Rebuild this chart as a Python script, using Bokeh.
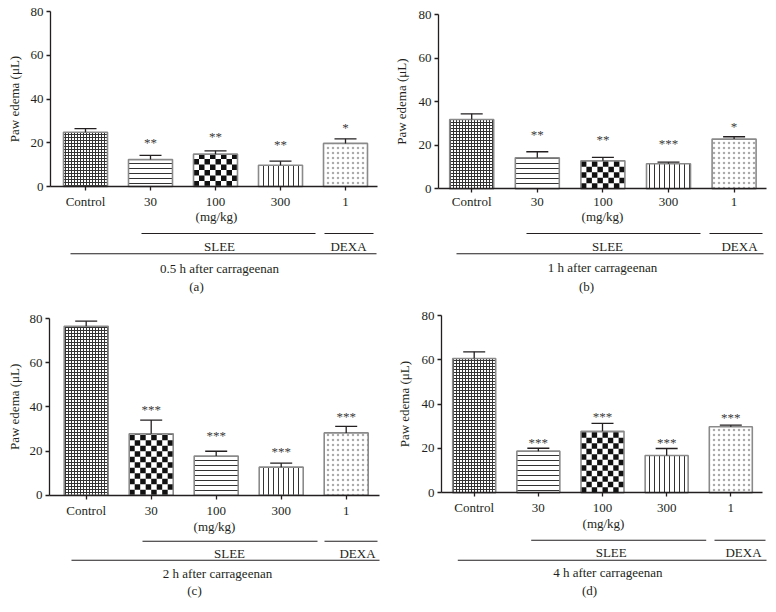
import math
import numpy as np
from bokeh.plotting import figure
from bokeh.models import Range1d, FixedTicker
from bokeh.layouts import column, row
from bokeh.embed import file_html
from bokeh.resources import INLINE
from bokeh.core.properties import value

# ---------------- data ----------------
groups = ["Control", "30", "100", "300", "1"]
y_ticks = [0, 20, 40, 60, 80]

a_mean = [24.8, 12.3, 14.8, 9.7, 19.7]
a_sem = [1.7, 1.9, 1.5, 1.9, 2.1]
a_stars = ["", "**", "**", "**", "*"]

b_mean = [31.8, 14.2, 12.9, 11.5, 22.8]
b_sem = [2.6, 2.8, 1.5, 0.7, 1.1]
b_stars = ["", "**", "**", "***", "*"]

c_mean = [76.5, 27.8, 17.7, 12.7, 28.2]
c_sem = [2.3, 6.2, 2.2, 1.8, 3.0]
c_stars = ["", "***", "***", "***", "***"]

d_mean = [60.6, 18.8, 27.8, 16.8, 29.8]
d_sem = [3.0, 1.3, 3.5, 3.2, 0.7]
d_stars = ["", "***", "***", "***", "***"]

captions = ["0.5 h after carrageenan", "1 h after carrageenan",
            "2 h after carrageenan", "4 h after carrageenan"]
letters = ["(a)", "(b)", "(c)", "(d)"]
dose_unit = "(mg/kg)"
group_names = ["SLEE", "DEXA"]
y_title = "Paw edema (\u03bcL)"

# ---------------- styles ----------------
FONT = "Liberation Serif"
INK = "#231f20"
FS = "13px"
BAR_LINE = "#8a8a8a"

HATCH = {
    "fine": dict(hatch_pattern="cross", hatch_scale=3, hatch_weight=1, hatch_color="#333333"),
    "hline": dict(hatch_pattern="horizontal_line", hatch_scale=5, hatch_weight=1, hatch_color="#333333"),
    "vline": dict(hatch_pattern="vertical_line", hatch_scale=5, hatch_weight=1, hatch_color="#333333"),
    "dots": dict(hatch_pattern="dot", hatch_scale=5, hatch_weight=1, hatch_color="#ababab"),
    "checker": dict(),
}

# layout geometry in page pixels (origin, size of each figure and positions of guides)
GEO = [
    dict(ox=1, oy=1, w=391, h=307, axis_x=51, axis_end=378, y80=12, y0=187, c0=86, s=65, bw=44,
         title_x=15, tick_sd=3, mg=(217, 216.7), gl_y=234, slee=(142, 316), dexa=(325, 374),
         gt_y=246.7, slee_x=220, dexa_x=349, long_y=254.3, long=(71, 377),
         cap=(220, 268.7), let=(197, 286.7), star_off=[0, 13, 14, 17, 11],
         pats=["fine", "hline", "checker", "vline", "dots"]),
    dict(ox=392, oy=1, w=376, h=307, axis_x=439, axis_end=767, y80=15, y0=189.3, c0=472.2, s=65.6, bw=44,
         title_x=402, tick_sd=1, mg=(603, 217.3), gl_y=234, slee=(527, 701), dexa=(710, 763),
         gt_y=246.7, slee_x=608, dexa_x=740, long_y=254.3, long=(457, 764),
         cap=(603, 267.7), let=(587, 286.7), star_off=[0, 17, 18, 19, 10],
         pats=["fine", "hline", "checker", "vline", "dots"]),
    dict(ox=1, oy=308, w=391, h=296, axis_x=50, axis_end=380, y80=319, y0=495.7, c0=86.7, s=65, bw=44,
         title_x=15, tick_sd=4, mg=(215, 526.7), gl_y=541.7, slee=(143, 318), dexa=(325, 378),
         gt_y=554, slee_x=230, dexa_x=358, long_y=560.7, long=(72, 380),
         cap=(218, 574), let=(195, 590.7), star_off=[0, 11, 16, 12, 10],
         pats=["fine", "checker", "hline", "vline", "dots"]),
    dict(ox=392, oy=308, w=376, h=296, axis_x=442, axis_end=763, y80=316, y0=493.3, c0=474.7, s=64.15, bw=43,
         title_x=405, tick_sd=3, mg=(604, 524), gl_y=540.7, slee=(531.7, 706.7), dexa=(715, 766),
         gt_y=553.3, slee_x=611.7, dexa_x=744, long_y=560.7, long=(458.3, 767),
         cap=(608.3, 573.3), let=(590, 590.7), star_off=[0, 6, 7, 6, 8],
         pats=["fine", "hline", "checker", "vline", "dots"]),
]

means = [a_mean, b_mean, c_mean, d_mean]
sems = [a_sem, b_sem, c_sem, d_sem]
stars = [a_stars, b_stars, c_stars, d_stars]


def txt(p, x, y, t, **kw):
    opts = dict(text_font=value(FONT), text_font_size=FS, text_color=INK,
                text_align="center", text_baseline="middle")
    opts.update(kw)
    p.text(x=[x], y=[y], text=[t], **opts)


def make_panel(k):
    g = GEO[k]
    ky = (g["y0"] - g["y80"]) / 80.0          # px per data unit (y)
    dx = lambda px: (px - g["c0"]) / g["s"]   # page px -> data x
    dy = lambda py: (g["y0"] - py) / ky       # page px -> data y

    p = figure(width=g["w"], height=g["h"],
               x_range=Range1d(dx(g["ox"]), dx(g["ox"] + g["w"])),
               y_range=Range1d(dy(g["oy"] + g["h"]), dy(g["oy"])),
               output_backend="svg", toolbar_location=None, min_border=0)
    p.outline_line_color = None
    p.grid.visible = False
    p.background_fill_color = "white"
    p.border_fill_color = "white"

    xa = p.xaxis[0]
    ya = p.yaxis[0]
    xa.fixed_location = 0
    ya.fixed_location = dx(g["axis_x"])
    xa.bounds = (dx(g["axis_x"]), dx(g["axis_end"]))
    ya.bounds = (0, 80)
    xa.ticker = FixedTicker(ticks=list(range(len(groups))))
    xa.major_label_overrides = {i: lab for i, lab in enumerate(groups)}
    ya.ticker = FixedTicker(ticks=y_ticks)
    for ax in (xa, ya):
        ax.axis_line_color = INK
        ax.axis_line_width = 1.3
        ax.major_tick_line_color = INK
        ax.major_tick_line_width = 1.3
        ax.major_tick_out = 4
        ax.major_tick_in = 0
        ax.minor_tick_line_color = None
        ax.major_label_text_font = FONT
        ax.major_label_text_font_size = FS
        ax.major_label_text_color = INK
    xa.major_label_standoff = g["tick_sd"]
    ya.major_label_standoff = 3

    m = means[k]
    e = sems[k]
    bw = g["bw"] / g["s"]
    cw = 11 / g["s"]
    for i in range(len(groups)):
        pat = g["pats"][i]
        p.vbar(x=[i], top=[m[i]], bottom=0, width=bw, fill_color="white",
               line_color=None, **HATCH[pat])
        if pat == "checker":
            sq = 5.5
            ncol = int(round(g["bw"] / sq))
            sw = bw / ncol
            sh = sq / ky
            nrow = int(math.ceil(m[i] / sh))
            L, R, B, T = [], [], [], []
            for r in range(nrow):
                for c in range(ncol):
                    if (r + c) % 2 == 0:
                        L.append(i - bw / 2 + c * sw)
                        R.append(i - bw / 2 + (c + 1) * sw)
                        B.append(r * sh)
                        T.append(min((r + 1) * sh, m[i]))
            p.quad(left=L, right=R, bottom=B, top=T, fill_color="#111111", line_color=None)
        p.vbar(x=[i], top=[m[i]], bottom=0, width=bw, fill_color=None,
               line_color=BAR_LINE, line_width=1.6)
        top = m[i] + e[i]
        p.segment(x0=[i], y0=[m[i]], x1=[i], y1=[top], line_color=INK, line_width=1.3)
        p.segment(x0=[i - cw], y0=[top], x1=[i + cw], y1=[top], line_color=INK, line_width=1.3)
        if stars[k][i]:
            txt(p, i, top + g["star_off"][i] / ky, stars[k][i], text_color="#3a3a3a")

    # y-axis title
    txt(p, dx(g["title_x"]), 40, y_title, angle=np.pi / 2)

    # annotations below axis
    txt(p, dx(g["mg"][0]), dy(g["mg"][1]), dose_unit)
    p.segment(x0=[dx(g["slee"][0]), dx(g["dexa"][0]), dx(g["long"][0])],
              y0=[dy(g["gl_y"]), dy(g["gl_y"]), dy(g["long_y"])],
              x1=[dx(g["slee"][1]), dx(g["dexa"][1]), dx(g["long"][1])],
              y1=[dy(g["gl_y"]), dy(g["gl_y"]), dy(g["long_y"])],
              line_color=INK, line_width=1.1)
    txt(p, dx(g["slee_x"]), dy(g["gt_y"]), group_names[0])
    txt(p, dx(g["dexa_x"]), dy(g["gt_y"]), group_names[1])
    txt(p, dx(g["cap"][0]), dy(g["cap"][1]), captions[k])
    txt(p, dx(g["let"][0]), dy(g["let"][1]), letters[k])
    return p


panels = [make_panel(k) for k in range(4)]
layout = column(row(panels[0], panels[1], spacing=0),
                row(panels[2], panels[3], spacing=0), spacing=0)

open("out.html", "w").write(file_html(layout, INLINE))
